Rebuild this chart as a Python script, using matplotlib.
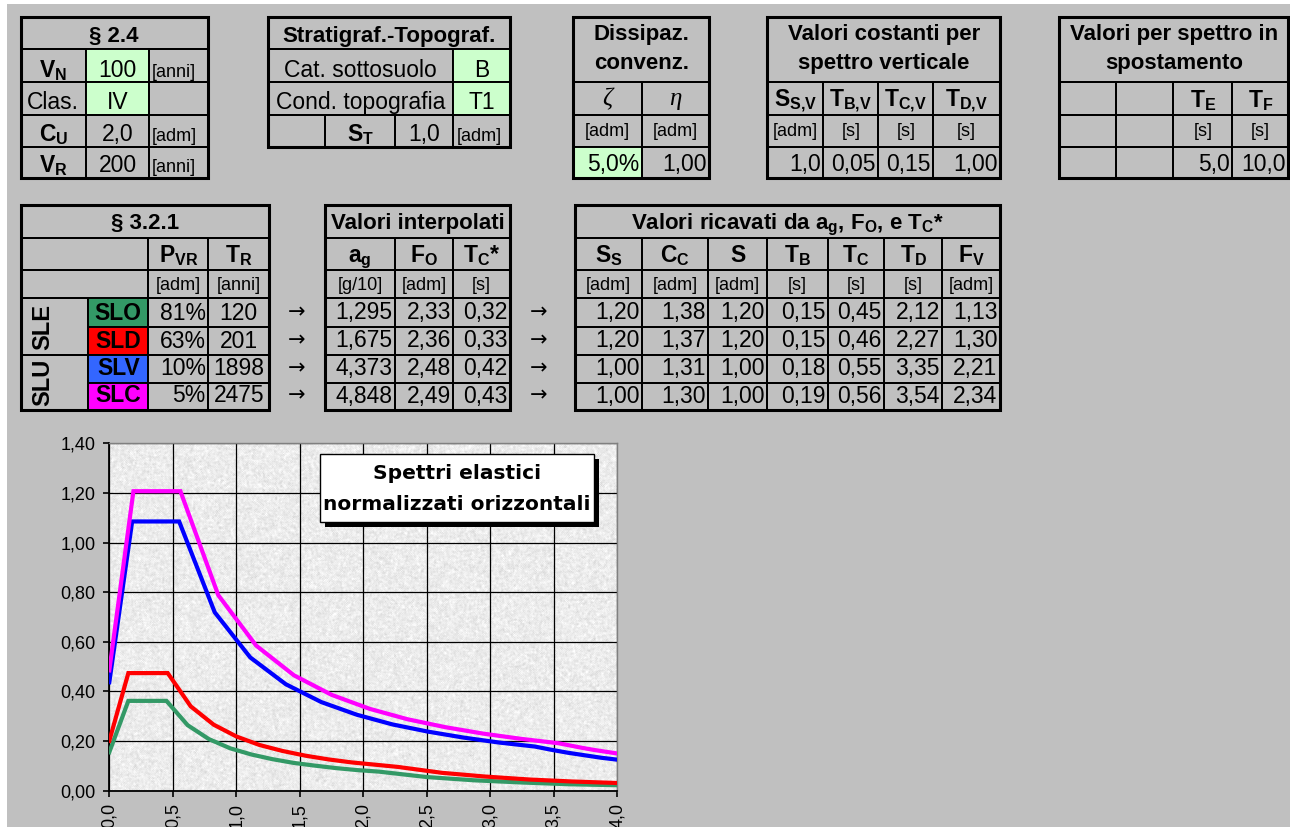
import numpy as np
import matplotlib.pyplot as plt
from matplotlib.patches import Rectangle

plt.rcParams["font.family"] = ["Liberation Sans", "DejaVu Sans"]
plt.rcParams["mathtext.fontset"] = "custom"
plt.rcParams["mathtext.rm"] = "Liberation Sans"
plt.rcParams["mathtext.bf"] = "Liberation Sans:bold"
plt.rcParams["mathtext.it"] = "Liberation Sans:italic"

W, H = 1290, 827
SFONDO = "#C0C0C0"
INPUT = "#CCFFCC"

# § 2.4 - vita nominale e classe d'uso
par_nomi = [r"$\mathbf{V_N}$", "Clas.", r"$\mathbf{C_U}$", r"$\mathbf{V_R}$"]
par_valori = ["100", "IV", "2,0", "200"]
par_unita = ["[anni]", "", "[adm]", "[anni]"]

# parametri costanti
cat_sottosuolo = "B"
cond_topografia = "T1"
s_t = "1,0"
zeta = "5,0%"
eta = "1,00"
vert_nomi = [r"$\mathbf{S_{S{,}V}}$", r"$\mathbf{T_{B{,}V}}$",
             r"$\mathbf{T_{C{,}V}}$", r"$\mathbf{T_{D{,}V}}$"]
vert_unita = ["[adm]", "[s]", "[s]", "[s]"]
vert_valori = ["1,0", "0,05", "0,15", "1,00"]
spost_nomi = ["", "", r"$\mathbf{T_E}$", r"$\mathbf{T_F}$"]
spost_unita = ["", "", "[s]", "[s]"]
spost_valori = ["", "", "5,0", "10,0"]

# § 3.2.1 - stati limite
stati = ["SLO", "SLD", "SLV", "SLC"]
colori_stati = ["#339966", "#FF0000", "#3366FF", "#FF00FF"]
colori_linee = ["#339966", "#FF0000", "#0000FF", "#FF00FF"]
p_vr = ["81%", "63%", "10%", "5%"]
t_r = ["120", "201", "1898", "2475"]
ag = ["1,295", "1,675", "4,373", "4,848"]
fo = ["2,33", "2,36", "2,48", "2,49"]
tc_star = ["0,32", "0,33", "0,42", "0,43"]
ricavati_nomi = [r"$\mathbf{S_S}$", r"$\mathbf{C_C}$", "S", r"$\mathbf{T_B}$",
                 r"$\mathbf{T_C}$", r"$\mathbf{T_D}$", r"$\mathbf{F_V}$"]
ricavati_unita = ["[adm]", "[adm]", "[adm]", "[s]", "[s]", "[s]", "[adm]"]
ricavati = [
    ["1,20", "1,38", "1,20", "0,15", "0,45", "2,12", "1,13"],
    ["1,20", "1,37", "1,20", "0,15", "0,46", "2,27", "1,30"],
    ["1,00", "1,31", "1,00", "0,18", "0,55", "3,35", "2,21"],
    ["1,00", "1,30", "1,00", "0,19", "0,56", "3,54", "2,34"],
]

# spettri elastici orizzontali: periodo T [s], Se [g]
t_slo = [0.0, 0.15, 0.45, 0.617, 0.784, 0.951, 1.118, 1.285, 1.452, 1.619,
         1.786, 1.953, 2.12, 2.50, 2.87, 3.25, 3.62, 4.0]
se_slo = [0.155, 0.362, 0.362, 0.264, 0.208, 0.171, 0.146, 0.127, 0.112, 0.101,
          0.091, 0.083, 0.077, 0.055, 0.042, 0.033, 0.026, 0.022]
t_sld = [0.0, 0.15, 0.46, 0.641, 0.822, 1.003, 1.184, 1.365, 1.546, 1.727,
         1.908, 2.089, 2.27, 2.62, 2.96, 3.31, 3.65, 4.0]
se_sld = [0.201, 0.474, 0.474, 0.340, 0.266, 0.218, 0.184, 0.160, 0.141, 0.126,
          0.114, 0.105, 0.096, 0.072, 0.057, 0.045, 0.037, 0.031]
t_slv = [0.0, 0.18, 0.55, 0.83, 1.11, 1.39, 1.67, 1.95, 2.23, 2.51,
         2.79, 3.07, 3.35, 3.48, 3.61, 3.74, 3.87, 4.0]
se_slv = [0.437, 1.085, 1.085, 0.719, 0.537, 0.429, 0.357, 0.306, 0.267, 0.238,
          0.214, 0.194, 0.178, 0.165, 0.153, 0.143, 0.133, 0.125]
t_slc = [0.0, 0.19, 0.56, 0.858, 1.156, 1.454, 1.752, 2.05, 2.348, 2.646,
         2.944, 3.242, 3.54, 3.63, 3.72, 3.82, 3.91, 4.0]
se_slc = [0.485, 1.207, 1.207, 0.788, 0.585, 0.465, 0.386, 0.330, 0.288, 0.256,
          0.230, 0.209, 0.191, 0.182, 0.173, 0.164, 0.157, 0.150]

x_ticks = [0.0, 0.5, 1.0, 1.5, 2.0, 2.5, 3.0, 3.5, 4.0]
x_labels = ["0,0", "0,5", "1,0", "1,5", "2,0", "2,5", "3,0", "3,5", "4,0"]
y_ticks = [0.0, 0.2, 0.4, 0.6, 0.8, 1.0, 1.2, 1.4]
y_labels = ["0,00", "0,20", "0,40", "0,60", "0,80", "1,00", "1,20", "1,40"]

VAL = 16.5
TIT = 16
UNIT = 13


def cella(ax, x0, x1, y0, y1, fill=None):
    ax.add_patch(Rectangle((x0, y0), x1 - x0, y1 - y0,
                           facecolor=fill if fill else "none",
                           edgecolor="black", lw=1.4, zorder=1))


def bordo(ax, x0, x1, y0, y1):
    ax.add_patch(Rectangle((x0, y0), x1 - x0, y1 - y0, fill=False,
                           edgecolor="black", lw=2.2, zorder=3))


def scrivi(ax, x0, x1, yb, s, allinea="center", size=VAL, bold=False, **kw):
    if not s:
        return
    if allinea == "center":
        x = (x0 + x1) / 2
    elif allinea == "right":
        x = x1 - 2.5
    else:
        x = x0 + 3
    ax.text(x, yb, s, ha=allinea, va="baseline", fontsize=size,
            fontweight="bold" if bold else "normal", zorder=4, **kw)


def tabelle(ax):
    # § 2.4
    c = [20.7, 86, 149, 207.7]
    r = [16.7, 49, 81.7, 115, 146.7, 178.3]
    b = [42, 77, 109, 141, 172.5]
    cella(ax, c[0], c[3], r[0], r[1])
    scrivi(ax, c[0], c[3], b[0], "§ 2.4", size=TIT, bold=True)
    for i in range(4):
        y0, y1 = r[i + 1], r[i + 2]
        cella(ax, c[0], c[1], y0, y1)
        cella(ax, c[1], c[2], y0, y1, INPUT if i < 2 else None)
        cella(ax, c[2], c[3], y0, y1)
        scrivi(ax, c[0], c[1], b[i + 1], par_nomi[i])
        scrivi(ax, c[1], c[2], b[i + 1], par_valori[i])
        scrivi(ax, c[2], c[3], b[i + 1], par_unita[i], allinea="left", size=UNIT)
    bordo(ax, c[0], c[3], r[0], r[5])

    # stratigrafia e topografia
    c = [268.3, 325, 395, 453.3, 510]
    cella(ax, c[0], c[4], r[0], r[1])
    scrivi(ax, c[0], c[4], b[0], "Stratigraf.-Topograf.", size=TIT, bold=True)
    cella(ax, c[0], c[3], r[1], r[2])
    cella(ax, c[3], c[4], r[1], r[2], INPUT)
    scrivi(ax, c[0], c[3], b[1], "Cat. sottosuolo")
    scrivi(ax, c[3], c[4], b[1], cat_sottosuolo)
    cella(ax, c[0], c[3], r[2], r[3])
    cella(ax, c[3], c[4], r[2], r[3], INPUT)
    scrivi(ax, c[0], c[3], b[2], "Cond. topografia")
    scrivi(ax, c[3], c[4], b[2], cond_topografia)
    for j in range(4):
        cella(ax, c[j], c[j + 1], r[3], r[4])
    scrivi(ax, c[1], c[2], b[3], r"$\mathbf{S_T}$")
    scrivi(ax, c[2], c[3], b[3], s_t)
    scrivi(ax, c[3], c[4], b[3], "[adm]", allinea="left", size=UNIT)
    bordo(ax, c[0], c[4], r[0], r[4])

    # tabelle con intestazione su due righe
    r = [16.7, 81.7, 115, 146.7, 178.3]
    b = [107, 136.5, 170.5]

    def blocco(c, titolo, nomi, unita, valori, verdi=(), greco=False):
        cella(ax, c[0], c[-1], r[0], r[1])
        scrivi(ax, c[0], c[-1], 40, titolo[0], size=TIT, bold=True)
        scrivi(ax, c[0], c[-1], 69, titolo[1], size=TIT, bold=True)
        for j in range(len(c) - 1):
            cella(ax, c[j], c[j + 1], r[1], r[2])
            cella(ax, c[j], c[j + 1], r[2], r[3])
            cella(ax, c[j], c[j + 1], r[3], r[4], INPUT if j in verdi else None)
            if greco:
                scrivi(ax, c[j], c[j + 1], b[0] - 2, nomi[j], size=18,
                       family="Liberation Serif", style="italic")
            else:
                scrivi(ax, c[j], c[j + 1], b[0], nomi[j])
            scrivi(ax, c[j], c[j + 1], b[1], unita[j], size=UNIT)
            scrivi(ax, c[j], c[j + 1], b[2], valori[j], allinea="right")
        bordo(ax, c[0], c[-1], r[0], r[4])

    blocco([573.3, 641.7, 709.3], ["Dissipaz.", "convenz."],
           ["ζ", "η"], ["[adm]", "[adm]"], [zeta, eta], verdi=(0,), greco=True)
    blocco([767.3, 823.3, 878.3, 933.3, 1000],
           ["Valori costanti per", "spettro verticale"],
           vert_nomi, vert_unita, vert_valori)
    blocco([1059.3, 1116, 1173.3, 1232.3, 1288.3],
           ["Valori per spettro in", "spostamento"],
           spost_nomi, spost_unita, spost_valori)

    # § 3.2.1
    r = [205, 237.7, 270, 298.3, 326.7, 355, 382.7, 410]
    b = [229, 262, 290, 319.5, 347.5, 375, 402.5]
    c = [20.7, 88.3, 148.3, 208.3, 269.3]
    cella(ax, c[0], c[4], r[0], r[1])
    scrivi(ax, c[0], c[4], b[0], "§ 3.2.1", size=TIT, bold=True)
    for k in (1, 2):
        cella(ax, c[0], c[2], r[k], r[k + 1])
        cella(ax, c[2], c[3], r[k], r[k + 1])
        cella(ax, c[3], c[4], r[k], r[k + 1])
    scrivi(ax, c[2], c[3], b[1], r"$\mathbf{P_{VR}}$")
    scrivi(ax, c[3], c[4], b[1], r"$\mathbf{T_R}$")
    scrivi(ax, c[2], c[3], b[2], "[adm]", size=UNIT)
    scrivi(ax, c[3], c[4], b[2], "[anni]", size=UNIT)
    cella(ax, c[0], c[1], r[3], r[5])
    cella(ax, c[0], c[1], r[5], r[7])
    for gruppo, (y0, y1) in zip(["SLE", "SLU"], [(r[3], r[5]), (r[5], r[7])]):
        ax.text(43, (y0 + y1) / 2, gruppo, rotation=90, ha="center", va="center",
                fontsize=17, fontweight="bold", zorder=4)
    for i in range(4):
        y0, y1 = r[i + 3], r[i + 4]
        cella(ax, c[1], c[2], y0, y1, colori_stati[i])
        cella(ax, c[2], c[3], y0, y1)
        cella(ax, c[3], c[4], y0, y1)
        scrivi(ax, c[1], c[2], b[i + 3], stati[i], bold=True)
        scrivi(ax, c[2], c[3], b[i + 3], p_vr[i], allinea="right")
        scrivi(ax, c[3], c[4], b[i + 3], t_r[i])
        for xa in (296.7, 539):
            ax.text(xa, b[i + 3] - 1, "→", ha="center", va="baseline", fontsize=15,
                    family=["DejaVu Sans"], zorder=4)
    bordo(ax, c[0], c[4], r[0], r[7])

    # valori interpolati
    c = [325, 395, 453.3, 510]
    cella(ax, c[0], c[3], r[0], r[1])
    scrivi(ax, c[0], c[3], b[0], "Valori interpolati", size=TIT, bold=True)
    nomi = [r"$\mathbf{a_g}$", r"$\mathbf{F_O}$", r"$\mathbf{T_C}$*"]
    unita = ["[g/10]", "[adm]", "[s]"]
    colonne = [ag, fo, tc_star]
    for j in range(3):
        for k in range(1, 7):
            cella(ax, c[j], c[j + 1], r[k], r[k + 1])
        scrivi(ax, c[j], c[j + 1], b[1], nomi[j], bold=True)
        scrivi(ax, c[j], c[j + 1], b[2], unita[j], size=UNIT)
        for i in range(4):
            scrivi(ax, c[j], c[j + 1], b[i + 3], colonne[j][i], allinea="right")
    bordo(ax, c[0], c[3], r[0], r[7])

    # valori ricavati
    c = [575, 642.3, 708.3, 767.3, 827.7, 884.3, 942.3, 1000]
    cella(ax, c[0], c[7], r[0], r[1])
    scrivi(ax, c[0], c[7], b[0],
           r"Valori ricavati da $\mathbf{a_g}$, $\mathbf{F_O}$, e $\mathbf{T_C}$*",
           size=TIT, bold=True)
    for j in range(7):
        for k in range(1, 7):
            cella(ax, c[j], c[j + 1], r[k], r[k + 1])
        scrivi(ax, c[j], c[j + 1], b[1], ricavati_nomi[j], bold=True)
        scrivi(ax, c[j], c[j + 1], b[2], ricavati_unita[j], size=UNIT)
        for i in range(4):
            scrivi(ax, c[j], c[j + 1], b[i + 3], ricavati[i][j], allinea="right")
    bordo(ax, c[0], c[7], r[0], r[7])


def grafico(fig):
    x0, x1, y0, y1 = 109.3, 617.3, 443.3, 790.7
    ax = fig.add_axes([x0 / W, 1 - y1 / H, (x1 - x0) / W, (y1 - y0) / H])

    # fondo granito dell'area del tracciato
    rng = np.random.default_rng(11)
    g = rng.normal(size=(348, 508))
    g = (g + np.roll(g, 1, 0) + np.roll(g, -1, 0) + np.roll(g, 1, 1) + np.roll(g, -1, 1)) / 5
    ax.imshow(0.925 + 0.055 * g, cmap="gray", vmin=0, vmax=1, extent=(0, 4, 0, 1.4),
              aspect="auto", interpolation="bilinear", zorder=0)

    serie = [(t_slo, se_slo), (t_sld, se_sld), (t_slv, se_slv), (t_slc, se_slc)]
    for (t, se), col in zip(serie, colori_linee):
        ax.plot(t, se, color=col, lw=3.0, solid_joinstyle="miter", zorder=3)

    ax.set_xlim(0, 4)
    ax.set_ylim(0, 1.4)
    ax.set_xticks(x_ticks)
    ax.set_xticklabels(x_labels, rotation=90, fontsize=13)
    ax.set_yticks(y_ticks)
    ax.set_yticklabels(y_labels, fontsize=13)
    ax.tick_params(direction="out", length=4, width=1.2, pad=6)
    ax.tick_params(axis="x", pad=5)
    ax.grid(True, color="black", lw=0.9)
    for lato in ("left", "bottom"):
        ax.spines[lato].set_color("black")
        ax.spines[lato].set_linewidth(1.3)
    for lato in ("top", "right"):
        ax.spines[lato].set_color("#808080")
        ax.spines[lato].set_linewidth(1.0)


def main():
    fig = plt.figure(figsize=(W / 100, H / 100), dpi=100)
    fig.patch.set_facecolor(SFONDO)

    grafico(fig)

    top = fig.add_axes([0, 0, 1, 1], zorder=10)
    top.set_xlim(0, W)
    top.set_ylim(H, 0)
    top.set_axis_off()
    top.patch.set_alpha(0)

    top.add_patch(Rectangle((0, 0), W, 4, color="white", lw=0))
    top.add_patch(Rectangle((0, 0), 7, H, color="white", lw=0))

    tabelle(top)

    # riquadro del titolo del grafico
    top.add_patch(Rectangle((325.4, 459.3), 273.5, 67.4, color="black", lw=0, zorder=5))
    top.add_patch(Rectangle((320.4, 454.3), 273.5, 67.4, facecolor="white",
                            edgecolor="black", lw=1.0, zorder=6))
    top.text(457, 479, "Spettri elastici", ha="center", va="baseline",
             fontsize=14.5, fontweight="bold", family=["DejaVu Sans"], zorder=7)
    top.text(457, 510, "normalizzati orizzontali", ha="center", va="baseline",
             fontsize=14.5, fontweight="bold", family=["DejaVu Sans"], zorder=7)

    fig.savefig("out.png", dpi=100, facecolor=fig.get_facecolor())


if __name__ == "__main__":
    main()
